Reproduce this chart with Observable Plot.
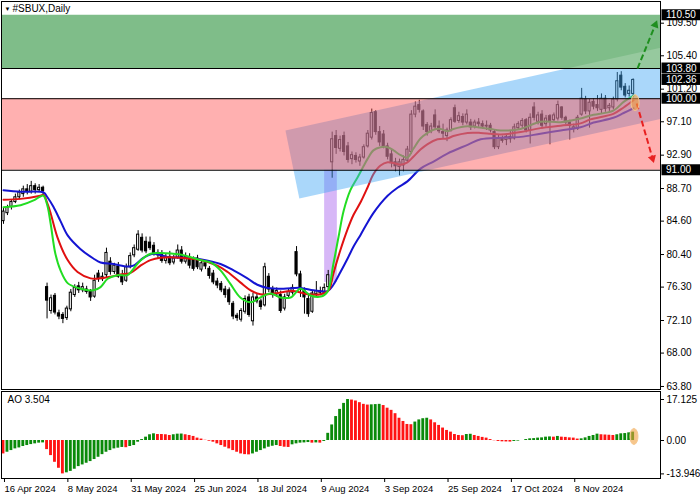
<!DOCTYPE html>
<html><head><meta charset="utf-8">
<script src="https://cdn.jsdelivr.net/npm/d3@7"></script>
<script src="https://cdn.jsdelivr.net/npm/@observablehq/plot@0.6"></script>
<style>
body{margin:0;background:#fff}
#chart{width:700px;height:500px;position:relative;overflow:hidden;background:#fff}
#chart svg{display:block}
</style></head><body><div id="chart"></div>
<script>
// ---------- data ----------
const symbolTitle = "#SBUX,Daily";
const xTickIdx = [0,16,32,48,64,80,96,112,128,144];
const xTickLabels = ["16 Apr 2024","8 May 2024","31 May 2024","25 Jun 2024","18 Jul 2024","9 Aug 2024","3 Sep 2024","25 Sep 2024","17 Oct 2024","8 Nov 2024"];
const priceTicks = [109.50,105.40,101.20,97.10,92.90,88.70,84.60,80.40,76.30,72.10,68.00,63.80];
const levelLabels = [110.50,103.80,102.36,100.00,91.00];
const levelLines = [103.80,100.00,91.00];
const greenZone = [103.80,110.50];
const redZone = [91.00,100.00];
const aoTicks = [17.125,0,-13.946];
const aoTickLabels = ["17.125","0.00","-13.946"];

const open = [84.6,85.6,86.4,87.0,87.6,88.0,88.6,88.3,89.0,88.5,88.8,76.3,73.3,75.2,73.0,72.8,72.4,73.5,75.3,76.4,
75.9,76.0,75.7,75.1,78.0,77.3,77.8,79.5,78.2,78.9,77.8,77.1,78.8,80.3,81.0,82.5,82.0,81.9,81.5,80.6,
80.4,79.6,80.1,79.4,80.0,80.9,79.5,80.0,79.7,79.9,78.5,79.3,78.6,78.0,77.0,76.7,76.0,75.9,74.2,72.7,
72.2,73.2,75.0,72.0,75.0,74.5,74.0,77.6,76.0,75.4,75.3,73.6,75.2,75.6,80.7,77.9,75.8,74.8,73.2,75.4,
75.8,75.6,76.3,92.0,95.3,93.7,95.3,94.0,92.4,92.8,92.1,92.6,94.0,95.1,98.3,95.8,95.5,94.0,93.0,92.0,
91.4,91.6,92.2,93.3,98.0,99.2,98.4,96.7,95.9,97.9,96.5,95.8,95.3,96.0,98.8,97.2,97.7,97.0,97.0,96.5,
97.0,96.8,96.5,96.6,95.8,93.9,95.0,94.8,95.2,95.0,96.3,96.6,97.3,96.0,98.9,97.1,98.0,96.8,97.8,97.3,
97.5,98.9,97.6,97.0,96.2,96.2,98.0,99.9,98.4,99.6,99.2,98.6,100.0,98.8,98.9,99.9,102.9,101.5,100.6,100.6];
const high = [86.2,86.6,87.3,88.0,88.5,89.0,89.2,89.6,89.3,89.2,89.0,76.8,75.3,75.5,73.4,73.1,73.9,76.0,76.6,76.9,
76.8,76.4,76.0,77.8,78.4,78.1,81.2,80.0,79.3,79.4,78.4,79.2,80.6,81.6,83.4,83.0,82.6,82.6,81.9,81.0,
80.9,80.5,80.8,80.3,81.6,81.4,80.6,80.5,80.1,80.3,79.7,79.6,78.9,78.4,77.4,77.0,76.4,76.2,74.5,73.0,
73.6,75.2,75.4,75.5,75.4,74.8,79.3,78.0,76.4,76.2,75.8,75.4,76.0,76.6,81.4,78.3,76.2,75.3,75.8,77.0,
76.3,76.7,78.4,95.8,96.0,95.3,95.8,94.5,93.3,93.2,93.0,94.2,96.0,98.7,98.5,96.5,96.0,94.4,93.5,92.5,
92.4,92.8,94.0,98.5,99.6,99.8,98.6,97.0,96.9,98.6,97.2,96.8,96.3,97.6,99.2,98.3,98.1,98.6,97.4,97.3,
97.5,97.2,97.2,96.9,96.1,95.4,95.3,95.5,95.9,96.8,97.1,97.5,97.5,98.1,99.5,98.3,98.5,97.9,98.0,98.2,
99.7,99.0,97.8,97.3,96.8,97.9,101.3,100.3,99.9,100.0,100.4,100.6,100.4,99.4,100.2,103.3,103.4,101.9,101.6,102.5];
const low = [84.2,85.3,86.0,86.8,87.3,87.6,87.9,88.0,88.0,88.2,87.9,72.3,72.9,72.8,72.2,71.7,72.1,73.2,75.0,75.5,
75.6,75.4,74.5,74.9,76.9,77.0,77.5,77.8,77.9,77.4,76.5,76.9,78.6,80.0,80.8,80.6,80.5,80.9,80.2,79.8,
79.3,79.2,79.0,79.1,79.8,79.2,79.2,78.6,78.3,78.5,78.2,78.5,77.3,76.6,76.1,75.6,74.9,74.0,72.2,72.0,
71.9,72.9,72.5,71.4,74.2,73.4,73.8,75.6,74.9,75.0,73.0,73.3,74.9,75.3,77.6,75.0,72.9,72.5,73.0,75.0,
75.2,75.3,76.0,90.0,93.0,93.3,92.8,91.9,91.7,91.9,91.5,92.4,93.8,94.8,95.4,94.0,93.7,92.3,91.3,90.8,
90.3,90.8,91.9,93.0,97.6,98.2,96.0,95.3,95.6,96.1,95.6,95.0,94.6,95.8,96.9,96.9,96.6,96.7,96.0,96.2,
96.4,96.2,96.0,95.7,93.6,93.6,94.4,94.1,94.4,94.8,96.0,96.2,95.7,94.3,97.2,96.7,96.2,96.4,94.2,97.0,
97.2,97.3,96.7,94.8,95.7,96.0,97.8,98.0,96.3,98.6,98.4,98.1,98.3,98.4,98.6,99.6,101.0,100.1,100.2,100.1];
const close = [85.8,86.3,87.0,87.6,88.2,88.6,88.3,89.0,88.5,88.8,88.4,74.6,74.9,73.1,72.6,72.3,73.6,75.6,76.2,75.9,
76.3,75.7,75.0,77.1,77.3,77.6,80.6,78.2,79.0,77.6,76.9,78.8,80.2,81.2,82.9,80.9,80.8,81.2,80.6,80.3,
79.6,80.0,79.3,79.9,80.9,79.5,80.1,79.0,78.6,78.8,79.3,78.9,77.7,76.9,76.5,75.9,75.3,74.4,72.6,72.4,
73.3,74.8,72.8,75.0,74.5,73.8,78.8,76.0,75.3,75.8,73.3,75.0,75.7,76.2,77.9,76.2,75.0,72.9,75.5,75.8,
75.6,76.2,77.8,94.9,93.8,94.8,93.3,92.3,92.9,92.3,92.6,93.9,95.6,98.2,95.8,94.5,94.0,92.7,91.9,91.5,
92.0,92.3,93.6,98.0,99.0,98.6,96.5,95.8,96.5,96.4,95.9,95.6,96.0,97.3,97.1,97.8,97.0,98.0,96.4,97.0,
96.8,96.5,96.6,96.0,93.9,95.0,94.7,95.2,94.9,96.4,96.8,97.2,96.0,97.6,97.6,97.9,96.6,97.5,97.2,97.9,
99.2,97.6,97.0,96.6,96.4,97.6,100.0,98.4,99.5,99.0,98.8,100.0,98.7,99.1,99.9,102.2,101.4,100.4,101.0,102.36];

// Alligator-style lines: [bar index, price]
const jaw = [[0,88.5],[4.3,88.3],[10.1,88.2],[11.1,87.6],[12.6,86.4],[14.4,84.6],[16.2,82.8],[19.4,81.1],[22.7,79.9],[24.5,79.4],
[27.8,79.2],[31.3,78.9],[32.8,79.0],[35.4,80.0],[37.9,80.5],[41.4,80.1],[46.5,80.0],[49.7,79.8],[54.8,79.2],[58.1,78.4],
[61.6,77.4],[64.1,76.6],[66.7,76.2],[70.7,76.1],[75.0,76.2],[78.3,75.9],[81.8,75.8],[83.3,76.6],[85.1,78.2],[86.9,79.9],
[88.4,81.4],[90.2,82.9],[91.9,84.4],[93.4,85.6],[95.2,86.8],[97.0,87.8],[99.5,88.8],[102.0,89.6],[105.3,91.2],[108.6,92.1],
[112.1,93.1],[117.2,94.2],[120.5,94.9],[125.5,95.1],[130.6,95.2],[135.6,95.6],[140.7,96.0],[145.7,96.4],[149.0,97.0],[154.0,97.6],
[156.6,98.2],[159.1,98.8]];
const teeth = [[0,87.3],[4.3,87.4],[9.3,87.8],[10.1,87.9],[11.1,86.8],[11.9,85.6],[13.6,82.6],[16.2,79.7],[18.7,78.2],[22.0,77.4],
[24.5,77.4],[27.0,77.6],[29.5,77.9],[32.1,78.1],[34.6,79.0],[37.1,79.7],[39.6,80.0],[44.7,80.0],[49.7,79.7],[54.0,79.0],
[56.6,78.2],[59.8,76.9],[62.4,75.9],[64.9,75.4],[68.2,75.5],[73.2,75.8],[76.8,75.4],[80.1,75.4],[82.1,75.9],[83.3,78.0],
[85.1,81.0],[86.9,83.6],[88.4,85.4],[90.2,87.0],[91.9,88.8],[93.4,90.5],[95.2,91.6],[97.0,92.0],[98.5,91.9],[100.3,91.7],
[102.0,92.0],[103.5,92.7],[105.3,93.6],[107.1,94.3],[109.6,94.9],[112.1,95.0],[113.6,95.3],[117.2,95.7],[120.5,95.7],[123.0,95.6],
[125.5,95.5],[130.6,95.8],[135.6,96.3],[140.7,96.6],[145.7,96.9],[148.2,97.4],[154.0,98.1],[156.6,98.9],[159.1,99.8]];
const lips = [[0,86.35],[4.3,86.6],[7.6,87.2],[9.3,87.7],[10.1,87.8],[11.1,86.5],[11.9,84.3],[13.1,80.5],[14.4,78.4],[16.2,76.8],
[18.7,76.2],[22.7,75.9],[24.5,76.3],[26.3,77.35],[28.8,77.8],[31.3,77.8],[32.8,78.6],[34.6,79.65],[37.1,80.5],[39.6,80.6],
[44.7,80.4],[49.7,79.7],[52.3,79.4],[54.8,78.4],[57.3,76.7],[59.8,75.0],[62.4,74.4],[64.9,75.0],[67.4,75.5],[69.9,75.0],
[72.5,75.0],[75.0,76.1],[77.5,75.25],[80.1,75.1],[81.8,75.7],[83.3,79.2],[84.6,82.6],[85.9,85.9],[87.6,88.5],[89.4,90.1],
[90.9,91.5],[91.9,92.4],[93.4,93.5],[95.2,93.9],[97.0,93.9],[98.5,93.5],[100.3,92.9],[102.0,92.6],[103.5,93.7],[105.3,95.0],
[107.1,95.7],[108.6,96.1],[110.4,96.2],[112.1,95.9],[113.6,96.2],[117.2,96.55],[119.7,96.4],[123.0,96.2],[125.5,96.0],[130.6,96.2],
[135.6,97.1],[140.7,97.05],[145.7,97.5],[148.2,97.9],[154.0,98.5],[156.6,99.6],[159.1,100.4]];

const ao = [-5.6,-4.9,-4.2,-3.5,-3.1,-2.5,-2.1,-1.7,-1.4,-1.1,-1.0,-3.8,-6.3,-9.1,-11.6,-13.946,-13.5,-12.9,-12.0,-10.9,
-10.2,-9.5,-8.8,-7.95,-7.0,-5.9,-4.9,-4.2,-3.5,-3.2,-2.9,-3.0,-2.5,-2.1,-0.7,0.4,1.4,2.4,2.8,2.5,
2.5,2.4,2.1,2.4,2.65,2.7,2.4,2.1,1.7,1.0,0.6,0.1,-0.3,-0.7,-1.4,-2.1,-2.8,-3.5,-4.2,-4.9,
-5.6,-5.9,-6.0,-5.6,-4.9,-4.2,-3.5,-2.8,-2.4,-2.1,-2.5,-2.8,-2.9,-1.8,-1.4,-1.1,-1.0,-0.85,-1.1,-1.0,
-1.1,-0.4,3.0,6.5,10.0,13.0,15.5,17.125,16.9,16.5,15.8,15.1,14.8,14.9,15.0,15.1,14.6,13.5,12.6,11.2,
9.3,7.95,6.7,6.6,7.7,8.6,9.1,9.3,8.6,7.4,6.3,5.2,4.2,3.5,2.5,2.1,2.0,2.5,2.6,2.1,
1.7,1.3,1.0,0.4,-0.1,-0.4,-0.55,-0.6,-0.65,-0.4,-0.25,0.0,0.4,0.7,0.8,1.0,1.1,1.4,1.5,1.4,
1.7,1.4,1.3,1.1,1.0,0.6,0.7,1.1,1.7,2.1,2.65,2.4,2.3,2.2,2.1,2.4,2.8,2.9,3.2,3.504];

// drawn objects (bar index, price)
const channelPoly = [[71.2,96.0],[142.2,103.8],[165.9,103.8],[165.9,97.45],[74.7,87.45],[71.2,96.0]];
const channelOverGreen = [[142.2,103.8],[165.9,106.4],[165.9,103.8],[142.2,103.8]];
const gapBand = [{i1:81.1,i2:84.3,p1:76.9,p2:91.0}];
const arrowUp = [{i1:160.1,p1:103.8,i2:164.6,p2:109.3}];
const arrowDown = [{i1:159.9,p1:99.4,i2:163.9,p2:92.5}];
const pivotMain = [{i:159.5,p:99.5}];
const pivotAO = [{i:159.2,v:1.7}];

// ---------- chart ----------
const W = 700, MR = 40, ML = 1;
const xDomain = [-0.505, 165.91];
const yDomain = [63.42, 112.23];
const pxPerBar = (W - MR - ML) / (xDomain[1] - xDomain[0]);
const pxPerPrice = (390 - 2) / (yDomain[1] - yDomain[0]);
const idx = d3.range(close.length);
const font = {fontFamily: "'Liberation Sans', Arial, sans-serif", fontSize: "10px", background: "white", color: "black"};

const ellipse = {draw(ctx){const rx=4, ry=8, k=0.5523;
  ctx.moveTo(rx,0); ctx.bezierCurveTo(rx,ry*k,rx*k,ry,0,ry); ctx.bezierCurveTo(-rx*k,ry,-rx,ry*k,-rx,0);
  ctx.bezierCurveTo(-rx,-ry*k,-rx*k,-ry,0,-ry); ctx.bezierCurveTo(rx*k,-ry,rx,-ry*k,rx,0); ctx.closePath();}};

const angle = (a) => Math.atan2((a.i2-a.i1)*pxPerBar, (a.p2-a.p1)*pxPerPrice) * 180 / Math.PI;

const boxX1 = xDomain[1] + 1.5 / pxPerBar, boxX2 = xDomain[1] + 40 / pxPerBar;
const boxH = 5.5 / pxPerPrice;

const main = Plot.plot({
  width: W, height: 390, marginLeft: ML, marginRight: MR, marginTop: 1, marginBottom: 1,
  style: font,
  x: {domain: xDomain, axis: null, label: null},
  y: {domain: yDomain, axis: null, label: null},
  marks: [
    Plot.rect(gapBand, {x1: "i1", x2: "i2", y1: "p1", y2: "p2", fill: "#b070f0", fillOpacity: 0.5}),
    Plot.ruleX(idx, {x: i => i, y1: i => low[i], y2: i => high[i], stroke: "black", strokeWidth: 1}),
    Plot.rect(idx, {x1: i => i - 0.27, x2: i => i + 0.27,
      y1: i => open[i], y2: i => Math.abs(close[i]-open[i]) < 0.06 ? open[i] + 0.06 : close[i],
      fill: i => close[i] >= open[i] ? "white" : "black", stroke: "black", strokeWidth: 1}),
    Plot.line(jaw, {x: d => d[0], y: d => d[1], stroke: "#1414d2", strokeWidth: 2, curve: "catmull-rom"}),
    Plot.line(teeth, {x: d => d[0], y: d => d[1], stroke: "#e01010", strokeWidth: 2, curve: "catmull-rom"}),
    Plot.line(lips, {x: d => d[0], y: d => d[1], stroke: "#22dd22", strokeWidth: 2, curve: "catmull-rom"}),
    Plot.line(channelPoly, {x: d => d[0], y: d => d[1], fill: "#42a6f4", fillOpacity: 0.45, stroke: "none"}),
    Plot.rect([redZone], {x1: xDomain[0], x2: xDomain[1], y1: d => d[0], y2: d => d[1], fill: "#ff5050", fillOpacity: 0.45}),
    Plot.rect([greenZone], {x1: xDomain[0], x2: xDomain[1], y1: d => d[0], y2: d => d[1], fill: "#3a9a4a", fillOpacity: 0.65}),
    Plot.line(channelOverGreen, {x: d => d[0], y: d => d[1], fill: "white", fillOpacity: 0.18, stroke: "none"}),
    Plot.ruleY(levelLines, {stroke: "black", strokeWidth: 1}),
    Plot.link(arrowUp, {x1: "i1", y1: "p1", x2: "i2", y2: "p2", stroke: "#1f8f1f", strokeWidth: 2, strokeDasharray: "6,3"}),
    Plot.dot(arrowUp, {x: "i2", y: "p2", symbol: "triangle2", r: 4, fill: "#1f8f1f", rotate: angle(arrowUp[0])}),
    Plot.link(arrowDown, {x1: "i1", y1: "p1", x2: "i2", y2: "p2", stroke: "#e82020", strokeWidth: 2, strokeDasharray: "6,3"}),
    Plot.dot(arrowDown, {x: "i2", y: "p2", symbol: "triangle2", r: 4, fill: "#e82020", rotate: angle(arrowDown[0])}),
    Plot.dot(pivotMain, {x: "i", y: "p", symbol: ellipse, fill: "#f0a040", fillOpacity: 0.6, stroke: "#f6c890", strokeWidth: 1}),
    Plot.axisY(priceTicks, {anchor: "right", label: null, tickSize: 3, tickPadding: 3, tickFormat: d => d.toFixed(2), fontSize: 10}),
    Plot.rect(levelLabels, {x1: boxX1, x2: boxX2, y1: d => d - boxH, y2: d => d + boxH, fill: "black"}),
    Plot.text(levelLabels, {x: boxX1, y: d => d, text: d => d.toFixed(2), textAnchor: "start", dx: 4, fill: "white", fontSize: 10}),
    Plot.text([symbolTitle], {frameAnchor: "top-left", textAnchor: "start", lineAnchor: "top", dx: 11, dy: 3, fontSize: 10}),
    Plot.text(["▼"], {frameAnchor: "top-left", textAnchor: "start", lineAnchor: "top", dx: 3, dy: 5, fontSize: 6}),
    Plot.frame({stroke: "black"})
  ]
});

const aoPlot = Plot.plot({
  width: W, height: 110, marginLeft: ML, marginRight: MR, marginTop: 1, marginBottom: 22,
  style: font,
  x: {domain: xDomain, axis: null, label: null},
  y: {domain: [-15.87, 20.47], axis: null, label: null},
  marks: [
    Plot.rect(idx, {x1: i => i - 0.36, x2: i => i + 0.36, y1: 0, y2: i => ao[i],
      fill: i => (i > 0 && ao[i] > ao[i-1]) ? "#0a8a0a" : "#ff1414"}),
    Plot.dot(pivotAO, {x: "i", y: "v", symbol: ellipse, fill: "#f0a040", fillOpacity: 0.6, stroke: "#f6c890", strokeWidth: 1}),
    Plot.text([`AO ${ao[ao.length-1]}`], {frameAnchor: "top-left", textAnchor: "start", lineAnchor: "top", dx: 6, dy: 4, fontSize: 10}),
    Plot.axisY(aoTicks, {anchor: "right", label: null, tickSize: 3, tickPadding: 3, tickFormat: (d) => aoTickLabels[aoTicks.indexOf(d)], fontSize: 10}),
    Plot.axisX(xTickIdx, {anchor: "bottom", label: null, tickSize: 4, tickPadding: 3, textAnchor: "start", dx: 1,
      tickFormat: (d) => xTickLabels[xTickIdx.indexOf(d)], fontSize: 9.5}),
    Plot.frame({stroke: "black"})
  ]
});

const el = document.getElementById("chart");
el.appendChild(main);
el.appendChild(aoPlot);
</script>
</body></html>
